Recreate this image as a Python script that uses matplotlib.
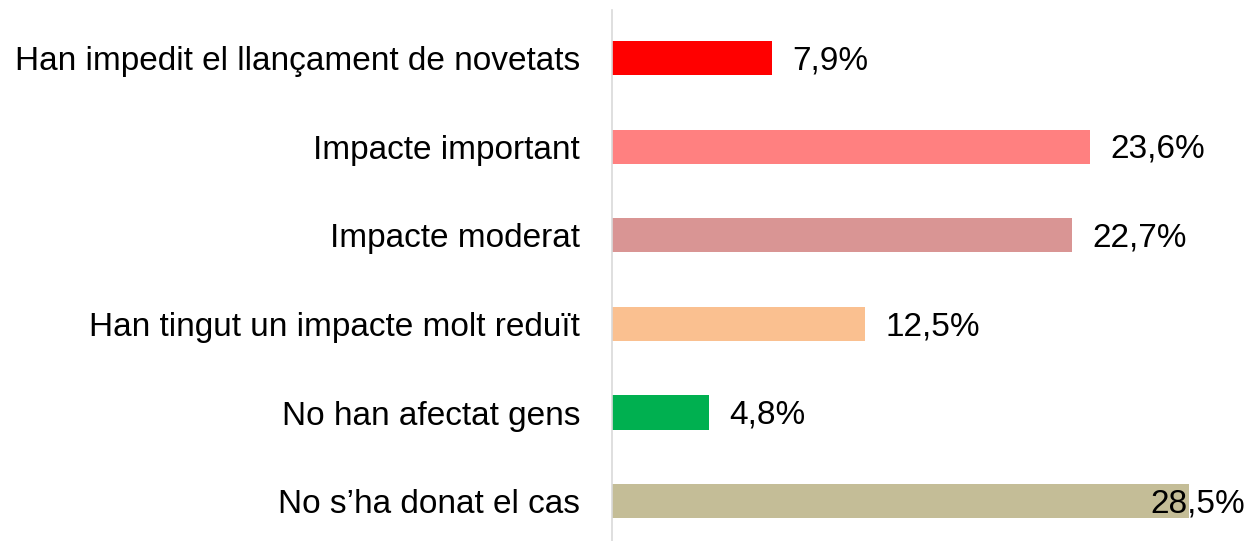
import matplotlib
matplotlib.use('Agg')
import matplotlib.pyplot as plt

categories = ['Han impedit el llançament de novetats', 'Impacte important', 'Impacte moderat',
              'Han tingut un impacte molt reduït', 'No han afectat gens', 'No s\u2019ha donat el cas']
values = [7.9, 23.6, 22.7, 12.5, 4.8, 28.5]
labels = ['7,9%', '23,6%', '22,7%', '12,5%', '4,8%', '28,5%']
colors = ['#FF0000', '#FF8080', '#D99594', '#FAC090', '#00B050', '#C4BD97']

plt.rcParams['font.family'] = ['Liberation Sans', 'DejaVu Sans']

fig = plt.figure(figsize=(12.53, 5.41), dpi=100)
ax = fig.add_axes([612 / 1253, 0.0, 1 - 612 / 1253, 531 / 541])

pos = list(range(len(categories)))
ax.barh(pos, values, height=0.384, color=colors)
xmax = 31.65
ax.set_xlim(0, xmax)
ax.set_ylim(5.45, -0.542)

for i, (v, lab) in enumerate(zip(values, labels)):
    if v == max(values):
        # label pushed back inside the plot area
        ax.text(xmax - 0.4, i + 0.03, lab, ha='right', va='center', fontsize=24, color='black')
    else:
        ax.text(v + 1.0, i + 0.03, lab, ha='left', va='center', fontsize=24, color='black')

ax.set_yticks(pos)
ax.set_yticklabels(categories, fontsize=24)
ax.tick_params(axis='y', length=0, pad=23)
ax.set_xticks([])
for s in ['top', 'right', 'bottom']:
    ax.spines[s].set_visible(False)
ax.spines['left'].set_color('#d9d9d9')
ax.spines['left'].set_linewidth(1.2)

fig.savefig('out.png', dpi=100)
